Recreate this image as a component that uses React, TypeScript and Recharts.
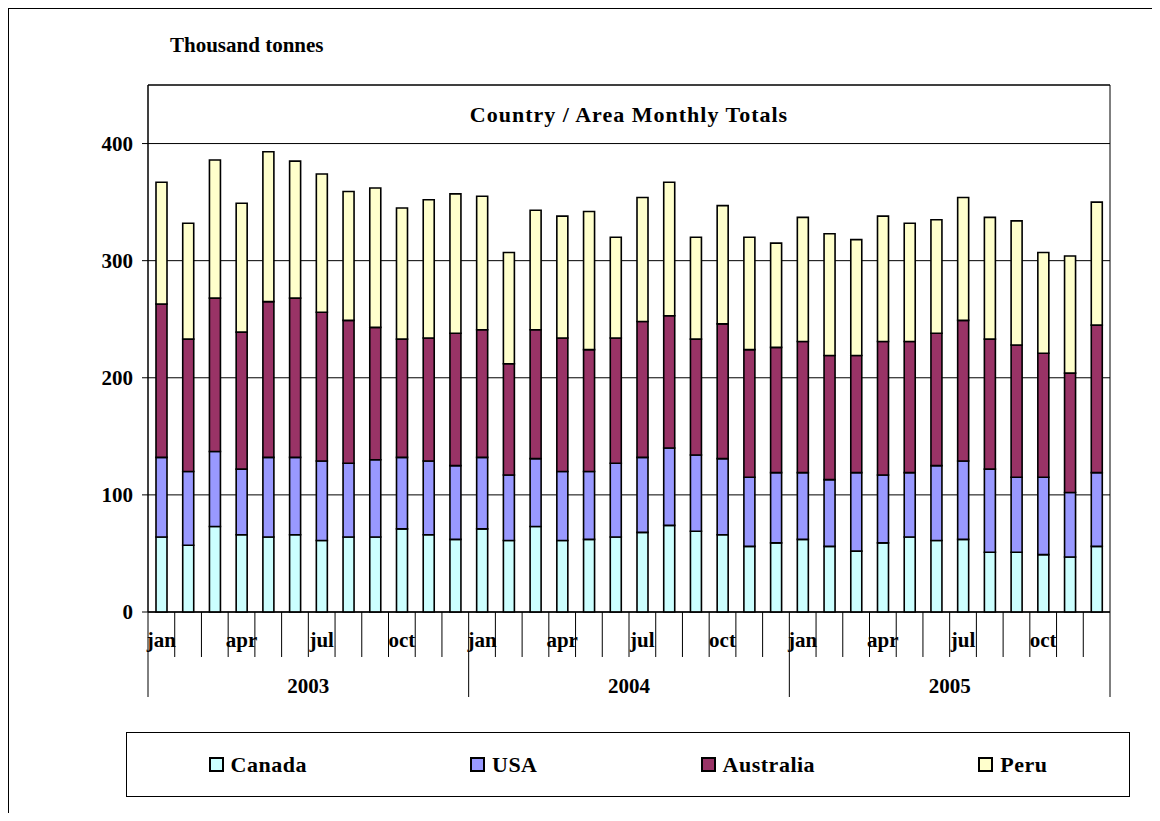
import { BarChart, Bar, XAxis, YAxis, CartesianGrid, ReferenceArea } from "recharts";

// monthly totals, thousand tonnes
const months = ["jan", "feb", "mar", "apr", "may", "jun", "jul", "aug", "sep", "oct", "nov", "dec"];
const years = ["2003", "2004", "2005"];

const canada = [
  64, 57, 73, 66, 64, 66, 61, 64, 64, 71, 66, 62,
  71, 61, 73, 61, 62, 64, 68, 74, 69, 66, 56, 59,
  62, 56, 52, 59, 64, 61, 62, 51, 51, 49, 47, 56,
];
const usa = [
  68, 63, 64, 56, 68, 66, 68, 63, 66, 61, 63, 63,
  61, 56, 58, 59, 58, 63, 64, 66, 65, 65, 59, 60,
  57, 57, 67, 58, 55, 64, 67, 71, 64, 66, 55, 63,
];
const australia = [
  131, 113, 131, 117, 133, 136, 127, 122, 113, 101, 105, 113,
  109, 95, 110, 114, 104, 107, 116, 113, 99, 115, 109, 107,
  112, 106, 100, 114, 112, 113, 120, 111, 113, 106, 102, 126,
];
const peru = [
  104, 99, 118, 110, 128, 117, 118, 110, 119, 112, 118, 119,
  114, 95, 102, 104, 118, 86, 106, 114, 87, 101, 96, 89,
  106, 104, 99, 107, 101, 97, 105, 104, 106, 86, 100, 105,
];

const series = [
  { key: "canada", name: "Canada", color: "#CCFFFF" },
  { key: "usa", name: "USA", color: "#9999FF" },
  { key: "australia", name: "Australia", color: "#993366" },
  { key: "peru", name: "Peru", color: "#FFFFCC" },
];

const data = years.flatMap((yr, yi) =>
  months.map((m, mi) => {
    const i = yi * 12 + mi;
    return {
      key: `${yr}-${m}`,
      canada: canada[i],
      usa: usa[i],
      australia: australia[i],
      peru: peru[i],
    };
  })
);

const FONT = "'Liberation Serif', 'Times New Roman', serif";
const W = 1152;
const H = 805;
const PLOT_W = 962;
const STEP = PLOT_W / data.length;

function MonthTick(props: any) {
  const { x, y, payload, index } = props;
  const [yr, m] = String(payload.value).split("-");
  const left = x - STEP / 2;
  const yearStart = index % 12 === 0;
  return (
    <g>
      <line x1={left} x2={left} y1={y} y2={y + (yearStart ? 85 : 45)} stroke="#000" />
      {index === data.length - 1 && (
        <line x1={x + STEP / 2} x2={x + STEP / 2} y1={y} y2={y + 85} stroke="#000" />
      )}
      {index % 3 === 0 && (
        <text x={x} y={y + 35} textAnchor="middle" fontFamily={FONT} fontWeight="bold" fontSize={21} fill="#000">
          {m}
        </text>
      )}
      {index % 12 === 6 && (
        <text x={left} y={y + 81} textAnchor="middle" fontFamily={FONT} fontWeight="bold" fontSize={21} fill="#000">
          {yr}
        </text>
      )}
    </g>
  );
}

export default function App() {
  return (
    <div style={{ position: "relative", width: W, height: H, overflow: "hidden", fontFamily: FONT }}>
      <div
        style={{
          position: "absolute",
          left: 0,
          top: 0,
          width: 1300,
          height: 1000,
          borderLeft: "1px solid #000",
          borderTop: "1px solid #000",
        }}
      />
      <div
        style={{
          position: "absolute",
          left: 162,
          top: 27,
          fontSize: 21,
          lineHeight: "21px",
          fontWeight: "bold",
        }}
      >
        Thousand tonnes
      </div>
      <div style={{ position: "absolute", left: 0, top: 0 }}>
        <BarChart width={W} height={H} data={data} margin={{ top: 77, right: 50, left: 0, bottom: 101 }} barSize={11}>
          <CartesianGrid horizontal vertical={false} stroke="#000" />
          <ReferenceArea y1={0} y2={450} fill="none" stroke="#000" strokeWidth={1} />
          <XAxis
            dataKey="key"
            interval={0}
            height={100}
            tickSize={0}
            tickMargin={0}
            tickLine={false}
            axisLine={{ stroke: "#000" }}
            tick={(p: any) => <MonthTick {...p} />}
          />
          <YAxis
            domain={[0, 450]}
            ticks={[0, 100, 200, 300, 400]}
            width={140}
            tickSize={6}
            tickMargin={9}
            axisLine={{ stroke: "#000" }}
            tickLine={{ stroke: "#000" }}
            tick={{ fontFamily: FONT, fontWeight: "bold", fontSize: 21, fill: "#000" }}
          />
          {series.map((s) => (
            <Bar
              key={s.key}
              dataKey={s.key}
              name={s.name}
              stackId="a"
              fill={s.color}
              stroke="#000"
              strokeWidth={1.6}
              isAnimationActive={false}
            />
          ))}
        </BarChart>
      </div>
      <div
        style={{
          position: "absolute",
          left: 140,
          width: PLOT_W,
          top: 96,
          textAlign: "center",
          fontSize: 22,
          lineHeight: "22px",
          fontWeight: "bold",
          letterSpacing: 1,
        }}
      >
        Country / Area Monthly Totals
      </div>
      <div
        style={{
          position: "absolute",
          left: 118,
          top: 724,
          width: 1004,
          height: 65,
          border: "1px solid #000",
          boxSizing: "border-box",
          display: "flex",
          alignItems: "center",
          justifyContent: "space-around",
        }}
      >
        {series.map((s) => (
          <div key={s.key} style={{ display: "flex", alignItems: "center", fontSize: 22, fontWeight: "bold", letterSpacing: 0.5 }}>
            <span
              style={{
                display: "inline-block",
                width: 11,
                height: 11,
                background: s.color,
                border: "2px solid #000",
                marginRight: 7,
              }}
            />
            {s.name}
          </div>
        ))}
      </div>
    </div>
  );
}
